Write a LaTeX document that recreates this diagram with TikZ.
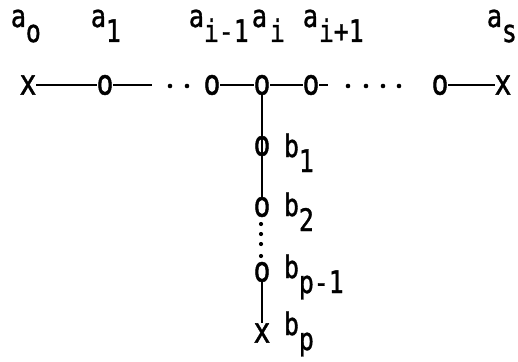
\documentclass[tikz,border=0pt]{standalone}
\usepackage{fontspec}
\setmainfont[FakeStretch=0.8,FakeBold=1.2]{DejaVu Sans Mono}
\begin{document}
\begin{tikzpicture}[x=1pt,y=-1pt,
  every node/.style={font=\fontsize{31}{31}\selectfont, inner sep=0pt, outer sep=0pt},
  vertexmark/.style={anchor=center, font=\fontsize{35}{35}\selectfont},
  lbl/.style={anchor=base west},
  bond/.style={line width=2pt, black},
  dotmark/.style={fill=black}]
\useasboundingbox (0,0) rectangle (518,361);
\newcommand{\sublow}[1]{\raisebox{-15pt}{#1}}

% horizontal chain
\node[vertexmark] (v0)   at (28,85)  {x};
\node[vertexmark] (v1)   at (105,85) {o};
\node[vertexmark] (vim1) at (212,85) {o};
\node[vertexmark] (vi)   at (262,85) {o};
\node[vertexmark] (vip1) at (311,85) {o};
\node[vertexmark] (vr)   at (440,85) {o};
\node[vertexmark] (vs)   at (503,85) {x};
\coordinate (d1) at (152,85);
\coordinate (d2) at (328,85);

\draw[bond] (v0.east) -- (v1.west);
\draw[bond] (v1.east) -- (d1);
\draw[bond] (vim1.east) -- (vi.west);
\draw[bond] (vi.east) -- (vip1.west);
\draw[bond] (vip1.east) -- (d2);
\draw[bond] (vr.east) -- (vs.west);

\foreach \px in {170,187} \fill[dotmark] (\px,86) circle (2.3);
\foreach \px in {348,366,383,399} \fill[dotmark] (\px,86) circle (2.3);

% vertical branch
\node[vertexmark] (w1)   at (262,146) {o};
\node[vertexmark] (w2)   at (262,207) {o};
\node[vertexmark] (wpm1) at (262,272) {o};
\node[vertexmark] (wp)   at (262,333) {x};

\draw[bond] (vi.south) -- (w2.north);
\draw[bond] (wpm1.south) -- (wp.north);
\foreach \py in {224,234,244,256} \fill[dotmark] (261,\py) circle (2.1);

% labels of the chain
\node[lbl] (la0)  at (11,27)  {a\sublow{o}};
\node[lbl] (la1)  at (91,27)  {a\sublow{1}};
\node[lbl] (laim) at (189,27) {a\sublow{i-1}};
\node[lbl] (lai)  at (252,27) {a\sublow{\kern3pt i}};
\node[lbl] (laip) at (303,27) {a\sublow{\kern1pt i+1}};
\node[lbl] (las)  at (487,27) {a\sublow{s}};

% labels of the branch
\node[lbl] (lb1)  at (284,157) {b\sublow{1}};
\node[lbl] (lb2)  at (284,216) {b\sublow{2}};
\node[lbl] (lbpm) at (284,278) {b\sublow{p-1}};
\node[lbl] (lbp)  at (284,335) {b\sublow{p}};
\end{tikzpicture}
\end{document}
